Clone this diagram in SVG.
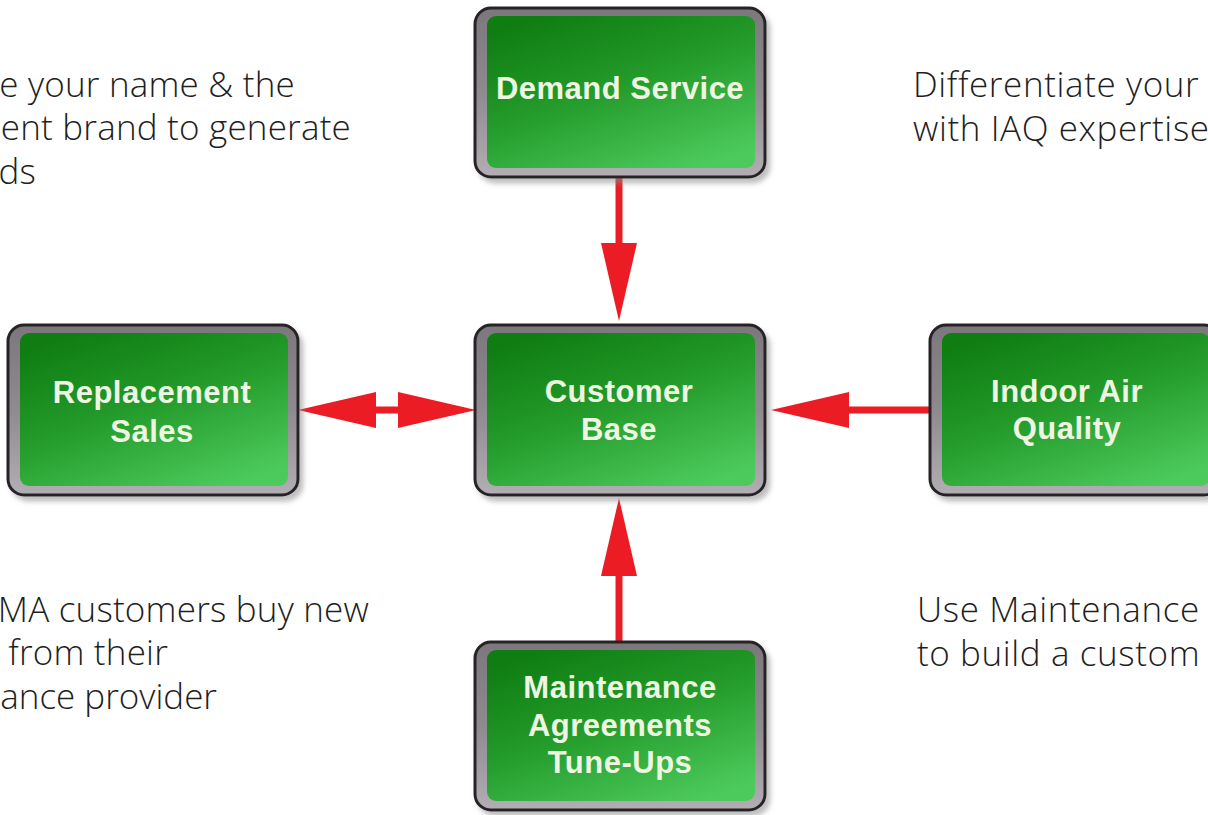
<svg xmlns="http://www.w3.org/2000/svg" width="1208" height="815" viewBox="0 0 1208 815">
  <defs>
    <linearGradient id="bevel" x1="0" y1="0" x2="0" y2="1">
      <stop offset="0" stop-color="#7c777c"/>
      <stop offset="0.5" stop-color="#8f8a90"/>
      <stop offset="1" stop-color="#b3aeb4"/>
    </linearGradient>
    <linearGradient id="green" x1="0.2" y1="0" x2="0.8" y2="1">
      <stop offset="0" stop-color="#0f7d12"/>
      <stop offset="0.45" stop-color="#239a2a"/>
      <stop offset="1" stop-color="#4ccb5c"/>
    </linearGradient>
    <filter id="shadow" x="-10%" y="-10%" width="125%" height="130%">
      <feDropShadow dx="4" dy="5" stdDeviation="2.5" flood-color="#8a8a8a" flood-opacity="0.55"/>
    </filter>
    <marker id="head" viewBox="0 0 78 36" markerUnits="userSpaceOnUse" markerWidth="78" markerHeight="36" refX="0" refY="18" orient="auto-start-reverse">
      <path d="M0,0 L78,18 L0,36 z" fill="#ec1c24"/>
    </marker>
  </defs>
  <style>
    .frame { fill: url(#bevel); stroke: #262426; stroke-width: 3; filter: url(#shadow); }
    .face { fill: url(#green); }
    .label { font-family: "Liberation Sans", Arial, sans-serif; font-weight: bold; font-size: 31px; letter-spacing: 0.5px; fill: #eef6e2; text-anchor: middle; }
    .note { font-family: "Open Sans", "DejaVu Sans", sans-serif; font-weight: 300; font-size: 35px; letter-spacing: 0.6px; fill: #1e1e1e; }
    .end { text-anchor: end; letter-spacing: 0.2px; }
    .tight { letter-spacing: 0; }
    .shaft { stroke: #ec1c24; stroke-width: 7; fill: none; }
  </style>

  <rect width="1208" height="815" fill="#ffffff"/>

  <!-- side notes -->
  <g id="notes">
    <text class="note end" x="295" y="97">e your name &amp; the</text>
    <text class="note end" x="351" y="140">ent brand to generate</text>
    <text class="note end" x="36" y="184">ds</text>
    <text class="note" x="913" y="97">Differentiate your</text>
    <text class="note" x="913" y="141">with IAQ expertise</text>
    <text class="note end" x="369" y="622">MA customers buy new</text>
    <text class="note end" x="168" y="665">from their</text>
    <text class="note end tight" x="217" y="709">ance provider</text>
    <text class="note" x="917" y="622">Use Maintenance</text>
    <text class="note" x="917" y="666">to build a custom</text>
  </g>

  <!-- connectors -->
  <g id="connectors">
    <line class="shaft" x1="619" y1="178" x2="619" y2="243" marker-end="url(#head)"/>
    <line class="shaft" x1="619" y1="641" x2="619" y2="576" marker-end="url(#head)"/>
    <line class="shaft" x1="376" y1="410" x2="398" y2="410" marker-start="url(#head)" marker-end="url(#head)"/>
    <line class="shaft" x1="929" y1="410" x2="849" y2="410" marker-end="url(#head)"/>
  </g>

  <g id="demand-service">
    <rect class="frame" x="475" y="8" width="290" height="169" rx="16"/>
    <rect class="face" x="487" y="16" width="268" height="152" rx="9"/>
    <text class="label" x="620" y="99">Demand Service</text>
  </g>

  <g id="customer-base">
    <rect class="frame" x="475" y="325" width="290" height="170" rx="16"/>
    <rect class="face" x="487" y="333" width="268" height="153" rx="9"/>
    <text class="label" x="619" y="402">Customer</text>
    <text class="label" x="619" y="440">Base</text>
  </g>

  <g id="replacement-sales">
    <rect class="frame" x="8" y="325" width="290" height="170" rx="16"/>
    <rect class="face" x="20" y="333" width="268" height="153" rx="9"/>
    <text class="label" x="152" y="403">Replacement</text>
    <text class="label" x="152" y="442">Sales</text>
  </g>

  <g id="indoor-air-quality">
    <rect class="frame" x="930" y="325" width="290" height="170" rx="16"/>
    <rect class="face" x="942" y="333" width="268" height="153" rx="9"/>
    <text class="label" x="1067" y="402">Indoor Air</text>
    <text class="label" x="1067" y="439">Quality</text>
  </g>

  <g id="maintenance">
    <rect class="frame" x="475" y="642" width="290" height="168" rx="16"/>
    <rect class="face" x="487" y="650" width="268" height="151" rx="9"/>
    <text class="label" x="620" y="698">Maintenance</text>
    <text class="label" x="620" y="736">Agreements</text>
    <text class="label" x="620" y="773">Tune-Ups</text>
  </g>
</svg>
